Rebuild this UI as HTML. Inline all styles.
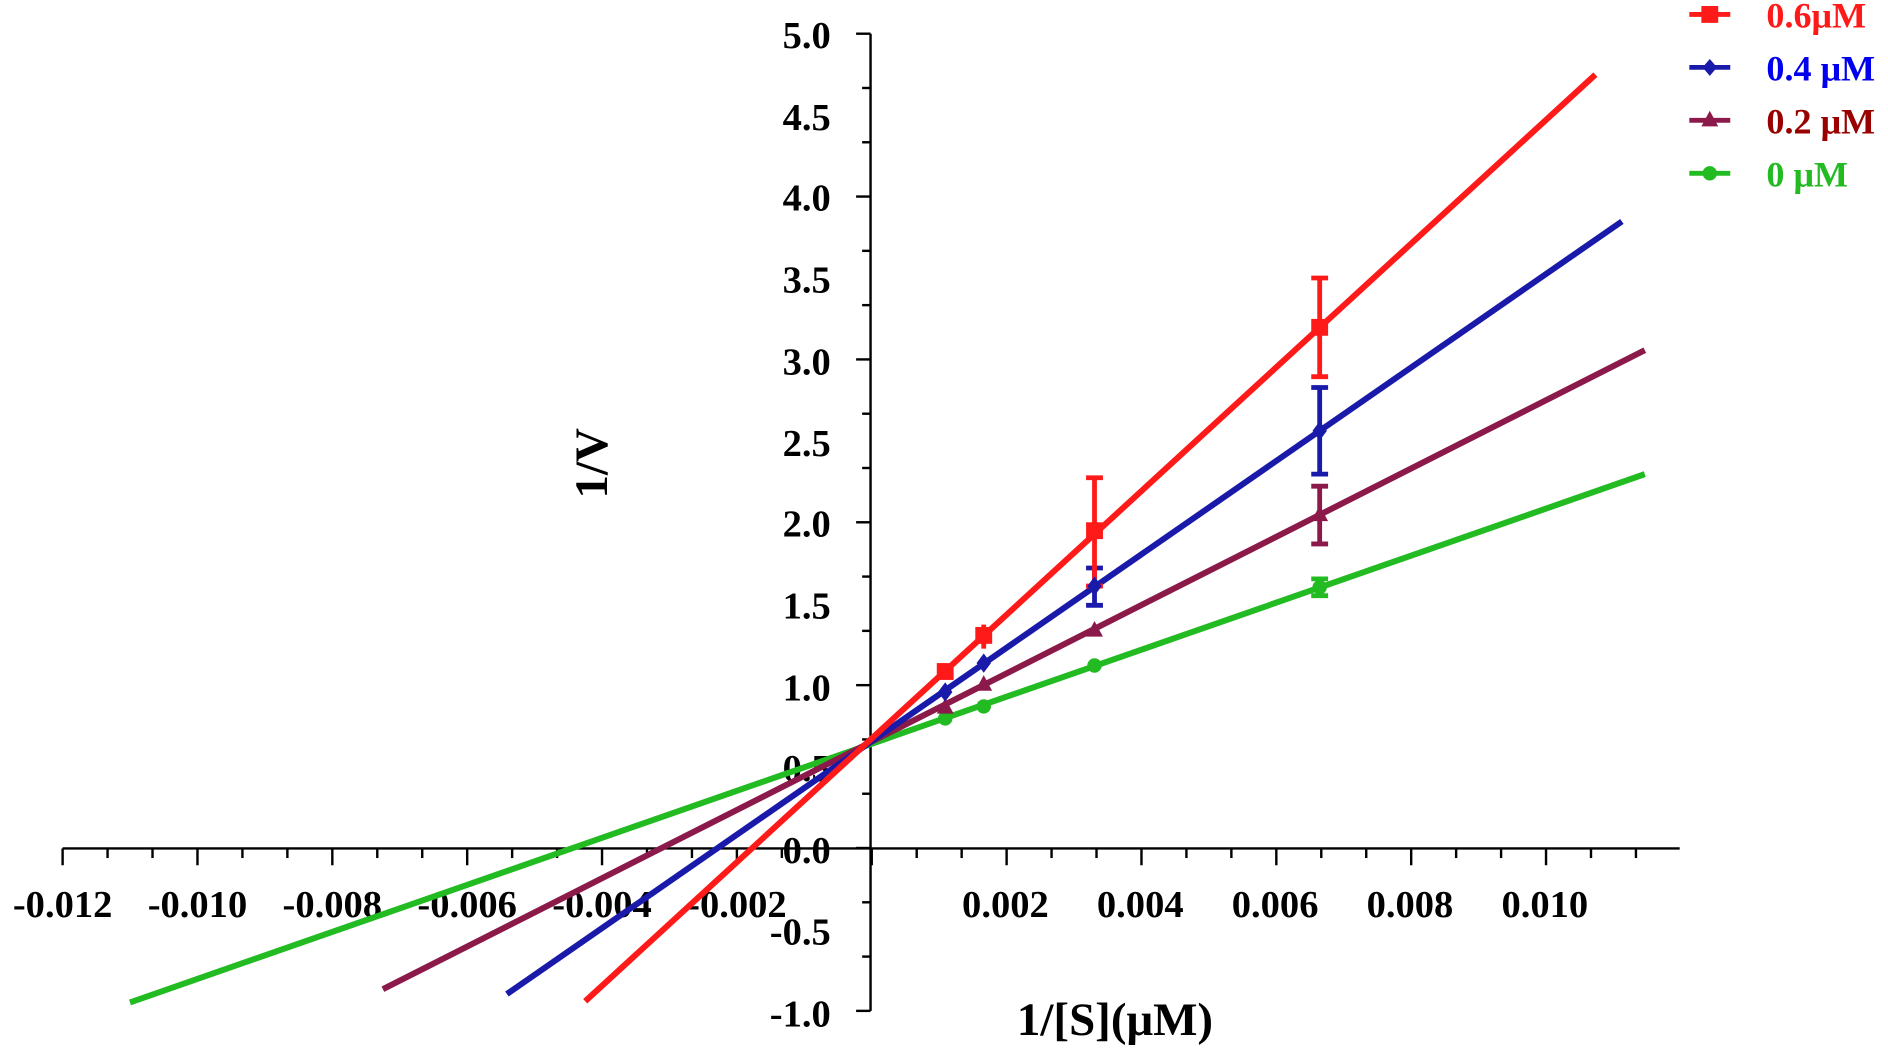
<!DOCTYPE html>
<html><head><meta charset="utf-8"><style>
html,body{margin:0;padding:0;background:#fff;}
svg{display:block;}
text{font-family:"Liberation Serif",serif;font-weight:bold;}
</style></head><body>
<svg width="1888" height="1053" viewBox="0 0 1568 875" preserveAspectRatio="none" xmlns="http://www.w3.org/2000/svg">
<g stroke="#000" stroke-width="2">
<line x1="723" y1="28" x2="723" y2="840"/>
<line x1="52" y1="705" x2="1395" y2="705"/>
</g>
<g id="yt" stroke="#000" stroke-width="2"></g>
<g id="xt" stroke="#000" stroke-width="2"></g>
<g font-size="32" text-anchor="end" fill="#000">
<text x="690" y="40">5.0</text><text x="690" y="108">4.5</text><text x="690" y="175">4.0</text>
<text x="690" y="243">3.5</text><text x="690" y="311">3.0</text><text x="690" y="379">2.5</text>
<text x="690" y="446">2.0</text><text x="690" y="514">1.5</text><text x="690" y="582">1.0</text>
<text x="690" y="649">0.5</text><text x="690" y="717">0.0</text><text x="690" y="785">-0.5</text>
<text x="690" y="853">-1.0</text>
</g>
<g font-size="32" text-anchor="middle" fill="#000">
<text x="52" y="762">-0.012</text><text x="164" y="762">-0.010</text><text x="276" y="762">-0.008</text>
<text x="388" y="762">-0.006</text><text x="500" y="762">-0.004</text><text x="612" y="762">-0.002</text>
<text x="835" y="762">0.002</text><text x="947" y="762">0.004</text><text x="1059" y="762">0.006</text>
<text x="1171" y="762">0.008</text><text x="1283" y="762">0.010</text>
</g>
<text x="926" y="860" font-size="39" text-anchor="middle">1/[S](μM)</text>
<text transform="translate(504,385) rotate(-90)" font-size="39" text-anchor="middle">1/V</text>
<g stroke-width="5" fill="none">
<line x1="108" y1="833" x2="1366" y2="394" stroke="#22bb22"/>
<line x1="318" y1="822" x2="1366" y2="291" stroke="#8b1a4b"/>
<line x1="421" y1="826" x2="1347" y2="184" stroke="#1a1aaa"/>
<line x1="486" y1="832" x2="1325" y2="62" stroke="#ff1a1a"/>
</g>
<g stroke-width="4">
<g stroke="#22bb22"><line x1="1096" y1="481" x2="1096" y2="495"/><line x1="1089" y1="481" x2="1103" y2="481"/><line x1="1089" y1="495" x2="1103" y2="495"/></g>
<g stroke="#8b1a4b"><line x1="1096" y1="404" x2="1096" y2="452"/><line x1="1089" y1="404" x2="1103" y2="404"/><line x1="1089" y1="452" x2="1103" y2="452"/></g>
<g stroke="#1a1aaa"><line x1="1096" y1="322" x2="1096" y2="394"/><line x1="1089" y1="322" x2="1103" y2="322"/><line x1="1089" y1="394" x2="1103" y2="394"/>
<line x1="909" y1="472" x2="909" y2="503"/><line x1="902" y1="472" x2="916" y2="472"/><line x1="902" y1="503" x2="916" y2="503"/></g>
<g stroke="#ff1a1a"><line x1="1096" y1="231" x2="1096" y2="313"/><line x1="1089" y1="231" x2="1103" y2="231"/><line x1="1089" y1="313" x2="1103" y2="313"/>
<line x1="909" y1="397" x2="909" y2="487"/><line x1="902" y1="397" x2="916" y2="397"/><line x1="902" y1="487" x2="916" y2="487"/>
<line x1="817" y1="519" x2="817" y2="539"/></g>
</g>
<g fill="#22bb22"><circle cx="785" cy="597" r="6"/><circle cx="817" cy="587" r="6"/><circle cx="909" cy="553" r="6"/><circle cx="1096" cy="488" r="6"/></g>
<g fill="#8b1a4b"><polygon points="785,580 778,593 792,593"/><polygon points="817,561 810,574 824,574"/><polygon points="909,516 902,529 916,529"/><polygon points="1096,420 1089,433 1103,433"/></g>
<g fill="#1a1aaa"><polygon points="785,567 791,575 785,583 779,575"/><polygon points="817,543 823,551 817,559 811,551"/><polygon points="909,479 915,487 909,495 903,487"/><polygon points="1096,350 1102,358 1096,366 1090,358"/></g>
<g fill="#ff1a1a"><rect x="778" y="551" width="14" height="14"/><rect x="810" y="521" width="14" height="14"/><rect x="902" y="434" width="14" height="14"/><rect x="1089" y="265" width="14" height="14"/></g>
<g stroke-width="4">
<line x1="1403" y1="12" x2="1437" y2="12" stroke="#ff1a1a"/>
<line x1="1403" y1="56" x2="1437" y2="56" stroke="#1a1aaa"/>
<line x1="1403" y1="100" x2="1437" y2="100" stroke="#8b1a4b"/>
<line x1="1403" y1="144" x2="1437" y2="144" stroke="#22bb22"/>
</g>
<rect x="1413" y="5" width="14" height="14" fill="#ff1a1a"/>
<polygon points="1420,49 1426,56 1420,63 1414,56" fill="#1a1aaa"/>
<polygon points="1420,92 1413,105 1427,105" fill="#8b1a4b"/>
<circle cx="1420" cy="144" r="6" fill="#22bb22"/>
<g font-size="30">
<text x="1467" y="23" fill="#ff1a1a">0.6μM</text>
<text x="1467" y="67" fill="#0000ee">0.4 μM</text>
<text x="1467" y="111" fill="#990000">0.2 μM</text>
<text x="1467" y="155" fill="#22bb22">0 μM</text>
</g>
</svg>
<script>
var ns="http://www.w3.org/2000/svg";
var yt=document.getElementById("yt"),xt=document.getElementById("xt");
for(var i=0;i<=18;i++){var y=28+i*(812/18);var maj=i%3==0;var l=document.createElementNS(ns,"line");
l.setAttribute("x1",maj?711:716);l.setAttribute("x2",723);l.setAttribute("y1",y);l.setAttribute("y2",y);yt.appendChild(l);}
for(var i=0;i<=36;i++){var x=52+i*(112/3);if(x>1395)break;var maj=i%3==0;var l=document.createElementNS(ns,"line");
l.setAttribute("x1",x);l.setAttribute("x2",x);l.setAttribute("y1",705);l.setAttribute("y2",maj?719:713);xt.appendChild(l);}
</script>
</body></html>
